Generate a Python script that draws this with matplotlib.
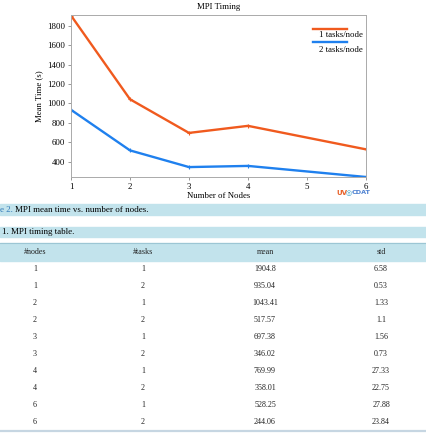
import matplotlib
matplotlib.use("Agg")
import matplotlib.pyplot as plt
from matplotlib.patches import Rectangle
from matplotlib.lines import Line2D

plt.rcParams['font.family'] = ['Liberation Serif', 'DejaVu Serif']

# ---- data ----
nodes = [1, 2, 3, 4, 6]
one_task = [1904.8, 1043.41, 697.38, 769.99, 528.25]
two_task = [935.04, 517.57, 346.02, 358.01, 244.06]
series_labels = ["1 tasks/node", "2 tasks/node"]
yticks = [400, 600, 800, 1000, 1200, 1400, 1600, 1800]
xticks = [1, 2, 3, 4, 5, 6]

table_header = ["#nodes", "#tasks", "mean", "std"]
tab_nodes = ["1", "1", "2", "2", "3", "3", "4", "4", "6", "6"]
tab_tasks = ["1", "2", "1", "2", "1", "2", "1", "2", "1", "2"]
tab_mean = ["1904.8", "935.04", "1043.41", "517.57", "697.38", "346.02",
            "769.99", "358.01", "528.25", "244.06"]
tab_std = ["6.58", "0.53", "1.33", "1.1", "1.56", "0.73", "27.33", "22.75",
           "27.88", "23.84"]

W, H = 426, 434
fig = plt.figure(figsize=(W / 100, H / 100), dpi=100)

def fx(px):
    return px / W

def fy(py):
    return 1 - py / H

orange = '#f05a1e'
blue = '#1f80ee'
band = '#c2e3ec'

# ---- chart ----
ax = fig.add_axes([fx(71), fy(177), (366 - 71) / W, (177 - 15) / H])
ax.plot(nodes, one_task, color=orange, lw=1.7, marker='+', ms=3, mew=0.8)
ax.plot(nodes, two_task, color=blue, lw=1.7, marker='+', ms=3, mew=0.8)
ax.set_xlim(1, 6)
ax.set_ylim(244, 1910)
ax.set_xticks(xticks)
ax.set_yticks(yticks)
ax.tick_params(labelsize=6.3, length=2.5, width=0.6, color='#888888', pad=1.5)
for s in ax.spines.values():
    s.set_color('#aaaaaa')
    s.set_linewidth(0.7)
ax.set_title("MPI Timing", fontsize=6.3, pad=4)
ax.set_xlabel("Number of Nodes", fontsize=6.3, labelpad=1)
ax.set_ylabel("Mean Time (s)", fontsize=6.3, labelpad=3)

# legend (line above text, as in the reference)
for ly, ty, c, lab in [(0.913, 0.876, orange, series_labels[0]),
                       (0.833, 0.782, blue, series_labels[1])]:
    ax.add_line(Line2D([0.82, 0.936], [ly, ly], color=c, lw=1.7,
                       transform=ax.transAxes))
    ax.text(0.99, ty, lab, ha='right', va='center', fontsize=6.3,
            transform=ax.transAxes)

# logo
fig.text(fx(336), fy(193), "UV", color='#e8632b', fontsize=5, fontweight='bold',
         family='DejaVu Sans', ha='left', va='center')
fig.text(fx(346), fy(193), "◎", color='#3aa0c8', fontsize=5,
         family='DejaVu Sans', ha='left', va='center')
fig.text(fx(352), fy(193), "CDAT", color='#4a7fd0', fontsize=4.6, fontweight='bold',
         family='DejaVu Sans', ha='left', va='center')

# ---- caption bands ----
fig.patches.append(Rectangle((0, fy(215)), 1, (215 - 204) / H, transform=fig.transFigure,
                             color=band, zorder=0))
fig.text(fx(0), fy(209.5), "e 2.", color='#2f78b8', fontsize=6.5, ha='left', va='center')
fig.text(fx(15), fy(209.5), "MPI mean time vs. number of nodes.", fontsize=6.5,
         ha='left', va='center')

fig.patches.append(Rectangle((0, fy(237)), 1, (237 - 226.5) / H, transform=fig.transFigure,
                             color=band, zorder=0))
fig.text(fx(2.5), fy(232), "1. MPI timing table.", fontsize=6.5, ha='left', va='center')

# header
fig.patches.append(Rectangle((0, fy(260.5)), 1, (260.5 - 243) / H, transform=fig.transFigure,
                             color=band, zorder=0))
fig.add_artist(Line2D([0, 1], [fy(243), fy(243)], color='#9cc6d4', lw=0.8,
                      transform=fig.transFigure))
col_x = [35, 143, 265, 381]
for cx, h in zip(col_x, table_header):
    fig.text(fx(cx), fy(252), h, fontsize=5.8, ha='center', va='center', color='#222222')

row_y0 = 269
row_dy = 16.97
for i in range(len(tab_nodes)):
    y = fy(row_y0 + i * row_dy)
    for cx, val in zip(col_x, [tab_nodes[i], tab_tasks[i], tab_mean[i], tab_std[i]]):
        fig.text(fx(cx), y, val, fontsize=5.8, ha='center', va='center', color='#222222')

fig.add_artist(Line2D([0, 1], [fy(431), fy(431)], color='#c6d6e2', lw=1.6,
                      transform=fig.transFigure))

fig.savefig("out.png", dpi=100)
